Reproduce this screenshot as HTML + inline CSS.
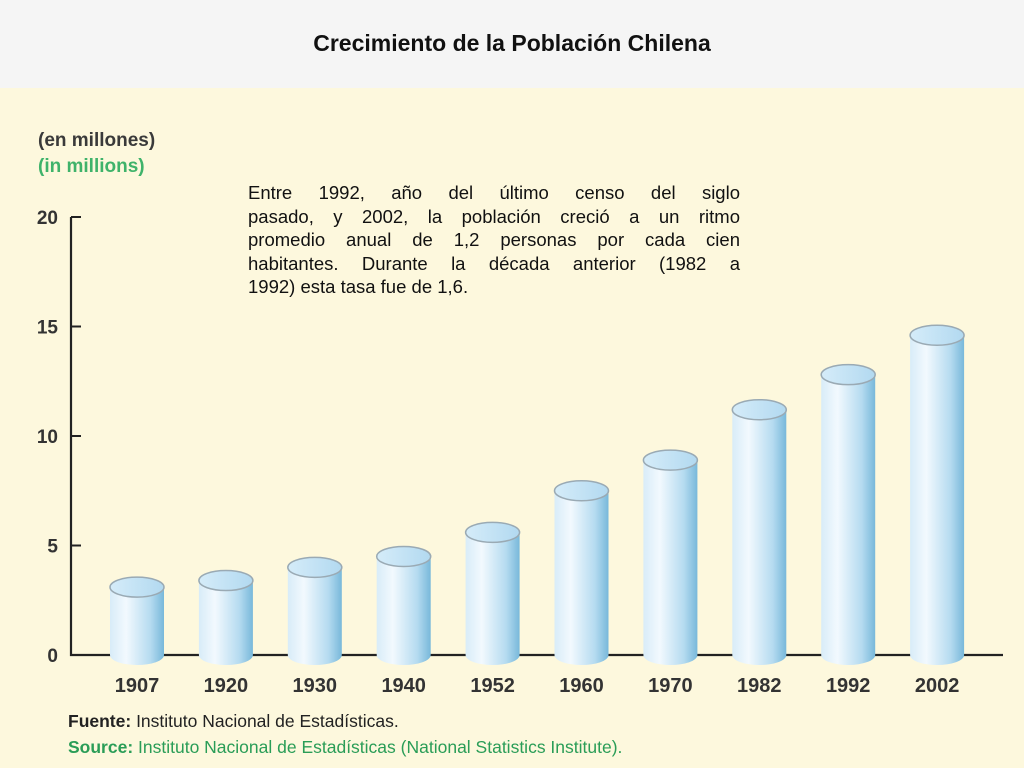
<!DOCTYPE html>
<html><head><meta charset="utf-8"><style>
body{margin:0;width:1024px;height:768px;overflow:hidden;background:#fdf8dd;font-family:"Liberation Sans",sans-serif}
#hdr{position:absolute;left:0;top:0;width:1024px;height:88px;background:#f5f5f5}
#title{position:absolute;left:0;top:30px;width:1024px;text-align:center;font-size:23px;font-weight:bold;color:#111}
#note{position:absolute;left:248px;top:181px;width:492px;font-size:18.5px;line-height:23.5px;color:#111}
#note div{text-align:justify;text-align-last:justify;white-space:nowrap}
#note div.last{text-align-last:left}
</style></head><body>
<div id="hdr"></div>
<div id="title">Crecimiento de la Población Chilena</div>
<svg width="1024" height="768" style="position:absolute;left:0;top:0">
<defs>
<linearGradient id="body" x1="0" x2="1" y1="0" y2="0">
<stop offset="0" stop-color="#d8ecf8"/><stop offset="0.3" stop-color="#f2f9fe"/><stop offset="0.75" stop-color="#b5dbf0"/><stop offset="1" stop-color="#78b8da"/>
</linearGradient>
<linearGradient id="cap" x1="0" x2="1"><stop offset="0" stop-color="#d5ecf9"/><stop offset="1" stop-color="#b2d9f0"/></linearGradient>
</defs>
<text x="38" y="146" font-size="19" font-weight="bold" fill="#3a3a3a">(en millones)</text>
<text x="38" y="172" font-size="19" font-weight="bold" fill="#3fb36a">(in millions)</text>
<g id="axes"></g><g id="bars"></g>
<text x="68" y="727" font-size="17.5" fill="#222"><tspan font-weight="bold">Fuente:</tspan> Instituto Nacional de Estadísticas.</text>
<text x="68" y="753" font-size="17.5" fill="#2a9d57"><tspan font-weight="bold">Source:</tspan> Instituto Nacional de Estadísticas (National Statistics Institute).</text>
</svg>
<div id="note">
<div>Entre 1992, año del último censo del siglo</div>
<div>pasado, y 2002, la población creció a un ritmo</div>
<div>promedio anual de 1,2 personas por cada cien</div>
<div>habitantes. Durante la década anterior (1982 a</div>
<div class="last">1992) esta tasa fue de 1,6.</div>
</div>
<script>
const years=["1907","1920","1930","1940","1952","1960","1970","1982","1992","2002"];
const population=[3.1,3.4,4.0,4.5,5.6,7.5,8.9,11.2,12.8,14.6];
const yTicks=[0,5,10,15,20];
const NS="http://www.w3.org/2000/svg";
const y0=655,pxPer=21.9;
const yS=v=>y0-v*pxPer;
const xS=i=>137+i*88.9;
function mk(t,a,p){const e=document.createElementNS(NS,t);for(const k in a)e.setAttribute(k,a[k]);p.appendChild(e);return e;}
const ax=document.getElementById('axes'),bg=document.getElementById('bars');
let l=mk('path',{d:`M71 ${yS(20)} V${y0} H1003`,stroke:'#222','stroke-width':2.2,fill:'none'},ax);


yTicks.forEach(v=>{
 if(v>0){const t=mk('line',{x1:71,x2:81,y1:yS(v),y2:yS(v),stroke:'#222','stroke-width':2},ax);
 
 }
 const tx=mk('text',{x:58,y:yS(v)+7,'font-size':19,'font-weight':'bold',fill:'#333','text-anchor':'end'},ax);tx.textContent=v;
 
 
});
const w=54,ry=10;
years.forEach((yr,i)=>{
 const cx=xS(i),top=yS(population[i]),g=mk('g',{},bg);
 
 
 mk('path',{d:`M${cx-w/2} ${top} V${y0} A${w/2} ${ry} 0 0 0 ${cx+w/2} ${y0} V${top} Z`,fill:'url(#body)'},g);
 mk('ellipse',{cx:cx,cy:top,rx:w/2,ry:ry,fill:'url(#cap)',stroke:'#9aaab4','stroke-width':1.5},g);
 const t=mk('text',{x:cx,y:692,'font-size':20,'font-weight':'bold',fill:'#333','text-anchor':'middle'},bg);t.textContent=yr;
 
 
});
</script>
</body></html>
